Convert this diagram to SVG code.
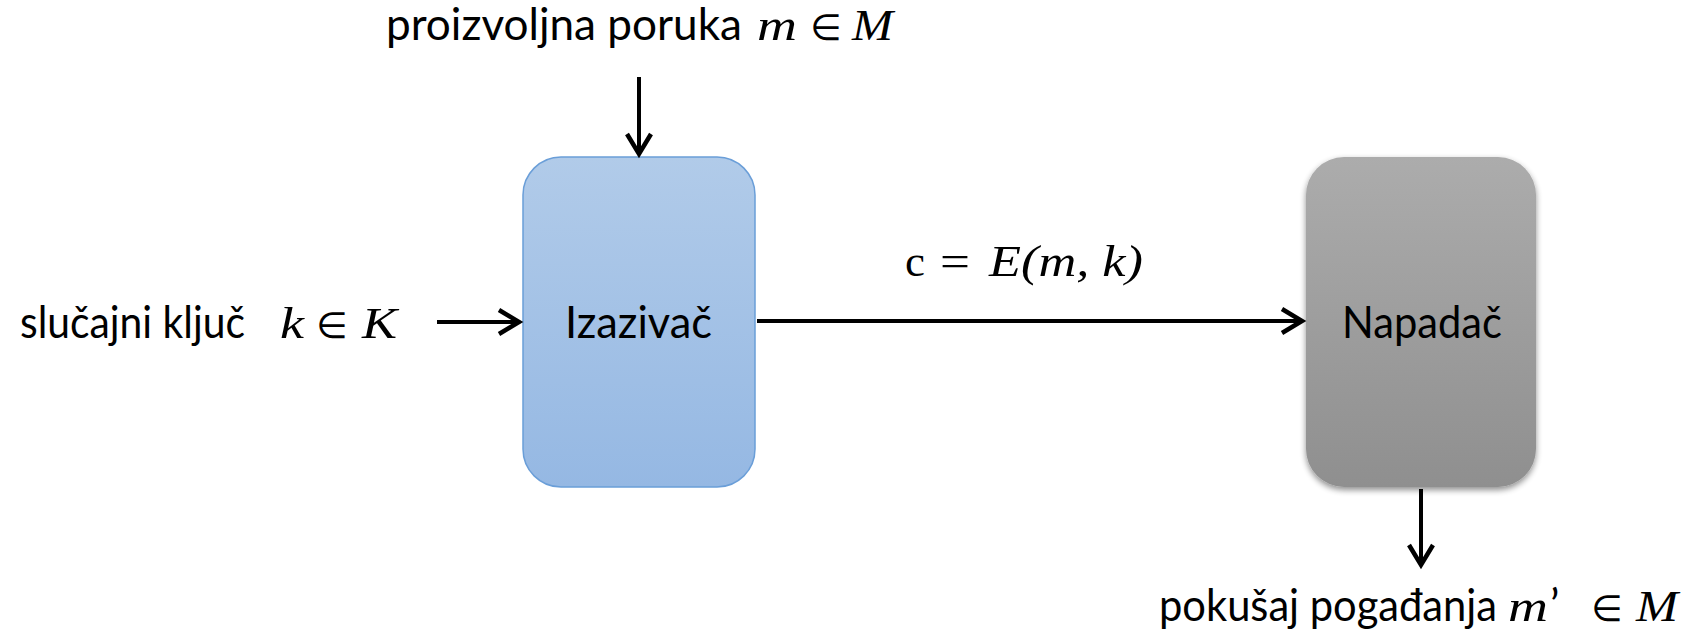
<svg xmlns="http://www.w3.org/2000/svg" width="1688" height="630" viewBox="0 0 1688 630">
<style>
.t{font-family:Lato,"Open Sans","Liberation Sans",sans-serif;font-size:44px;fill:#000}
.m{font-family:"Liberation Serif","DejaVu Serif",serif;font-size:45px;font-style:italic;fill:#000}
.r{font-family:"Liberation Serif","DejaVu Serif",serif;font-size:45px;fill:#000}
.e{font-family:"DejaVu Sans","Liberation Sans",sans-serif;font-size:36px;fill:#000;text-anchor:middle}
.c{stroke:#000;stroke-width:4;fill:none}
</style>
<defs>
<linearGradient id="gb" x1="0" y1="0" x2="0" y2="1">
<stop offset="0" stop-color="#B1CBE9"/>
<stop offset="1" stop-color="#95B8E3"/>
</linearGradient>
<linearGradient id="gg" x1="0" y1="0" x2="0" y2="1">
<stop offset="0" stop-color="#ACACAC"/>
<stop offset="1" stop-color="#8F8F8F"/>
</linearGradient>
<filter id="sh" x="-10%" y="-10%" width="120%" height="125%">
<feGaussianBlur in="SourceAlpha" stdDeviation="3"/>
<feOffset dx="0" dy="3"/>
<feComponentTransfer><feFuncA type="linear" slope="0.45"/></feComponentTransfer>
<feMerge><feMergeNode/><feMergeNode in="SourceGraphic"/></feMerge>
</filter>
<marker id="ah" markerUnits="userSpaceOnUse" viewBox="-26 -16 30 32" refX="0" refY="0" markerWidth="30" markerHeight="32" orient="auto">
<path d="M-21,-12 L-1,0 L-21,12" fill="none" stroke="#000" stroke-width="4.5" stroke-linejoin="miter" stroke-linecap="butt"/>
</marker>
</defs>
<rect width="1688" height="630" fill="#fff"/>

<g id="challenger">
<rect x="523" y="157" width="232" height="330" rx="38" ry="38" fill="url(#gb)" stroke="#6A9ED8" stroke-width="1.5"/>
<text class="t" x="565" y="338" textLength="147" lengthAdjust="spacingAndGlyphs">Izazivač</text>
</g>

<g id="attacker">
<rect x="1306" y="157" width="230" height="330" rx="38" ry="38" fill="url(#gg)" filter="url(#sh)"/>
<text class="t" x="1342" y="338" textLength="160" lengthAdjust="spacingAndGlyphs">Napadač</text>
</g>

<g id="label-message">
<text class="t" x="386" y="40" textLength="356" lengthAdjust="spacingAndGlyphs">proizvoljna poruka</text>
<text class="m" x="757" y="40" textLength="40" lengthAdjust="spacingAndGlyphs">m</text>
<text class="e" x="826" y="40">∈</text>
<text class="m" x="852" y="40" textLength="41" lengthAdjust="spacingAndGlyphs">M</text>
</g>

<g id="label-key">
<text class="t" x="20" y="338" textLength="225" lengthAdjust="spacingAndGlyphs">slučajni ključ</text>
<text class="m" x="280" y="338" textLength="24" lengthAdjust="spacingAndGlyphs">k</text>
<text class="e" x="332" y="338">∈</text>
<text class="m" x="362" y="338" textLength="35" lengthAdjust="spacingAndGlyphs">K</text>
</g>

<g id="label-cipher">
<text class="r" x="905" y="276">c</text>
<text class="r" x="940" y="276" textLength="30" lengthAdjust="spacingAndGlyphs">=</text>
<text class="m" x="989" y="276" textLength="154" lengthAdjust="spacingAndGlyphs">E(m, k)</text>
</g>

<g id="label-guess">
<text class="t" x="1159" y="621" textLength="338" lengthAdjust="spacingAndGlyphs">pokušaj pogađanja</text>
<text class="m" x="1508" y="621" textLength="40" lengthAdjust="spacingAndGlyphs">m</text>
<text class="t" x="1550" y="621">’</text>
<text class="e" x="1607" y="621">∈</text>
<text class="m" x="1636" y="621" textLength="42" lengthAdjust="spacingAndGlyphs">M</text>
</g>

<g id="connectors">
<line class="c" x1="639" y1="77" x2="639" y2="155" marker-end="url(#ah)"/>
<line class="c" x1="437" y1="322" x2="520" y2="322" marker-end="url(#ah)"/>
<line class="c" x1="757" y1="321" x2="1303" y2="321" marker-end="url(#ah)"/>
<line class="c" x1="1421" y1="489" x2="1421" y2="566" marker-end="url(#ah)"/>
</g>
</svg>
